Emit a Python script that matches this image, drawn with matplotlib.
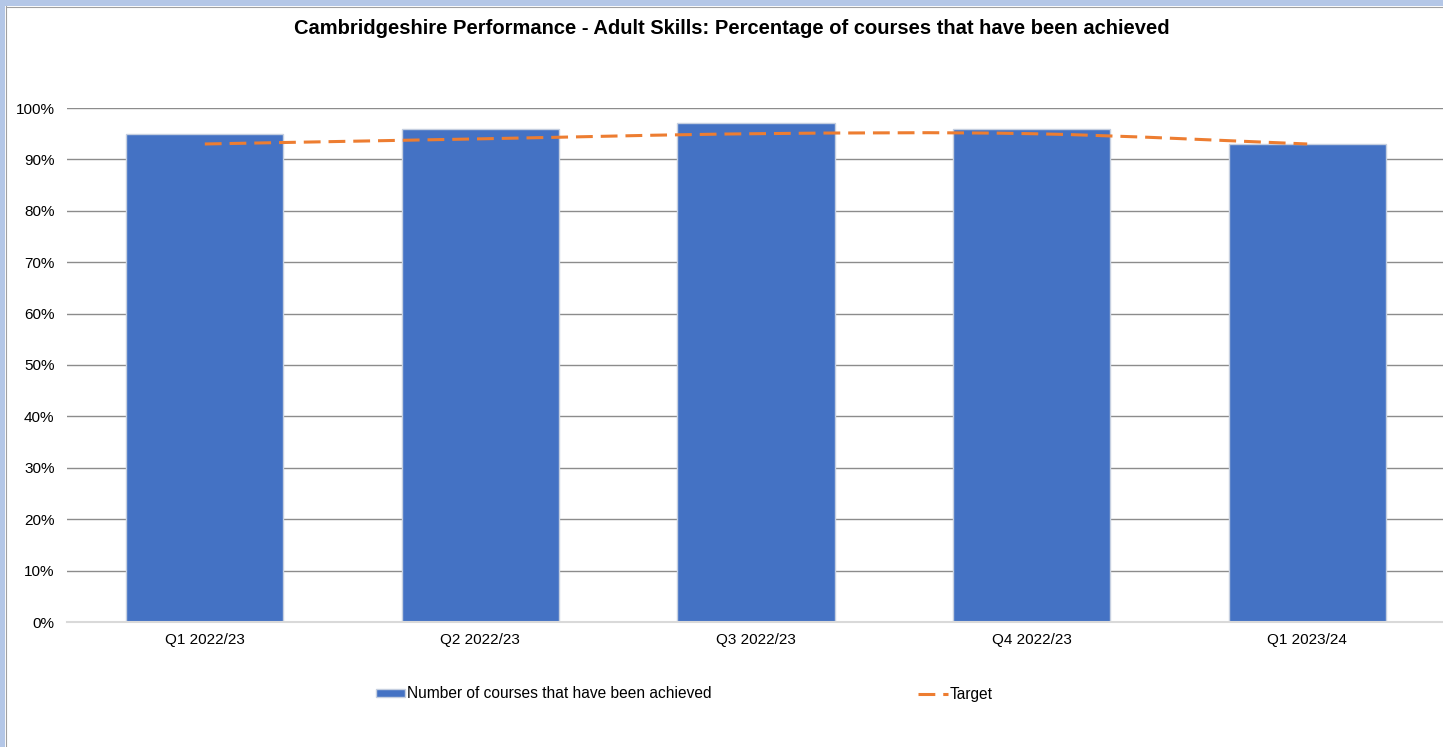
import matplotlib
matplotlib.use("Agg")
import matplotlib.pyplot as plt
from matplotlib.path import Path
from matplotlib.patches import PathPatch, Rectangle
from matplotlib.lines import Line2D
from matplotlib.ticker import PercentFormatter

plt.rcParams['font.family'] = ['Liberation Sans', 'DejaVu Sans']

quarters = ["Q1 2022/23", "Q2 2022/23", "Q3 2022/23", "Q4 2022/23", "Q1 2023/24"]
achieved = [0.95, 0.96, 0.97, 0.96, 0.93]
target = [0.93, 0.94, 0.95, 0.95, 0.93]

bar_color = "#4472C4"
line_color = "#ED7D31"
dash = (0, (5.5, 2.6))

fig = plt.figure(figsize=(14.43, 7.47), dpi=100)

# light blue window frame on the left and top
fig.patches.append(Rectangle((0, 0), 5 / 1443, 1, transform=fig.transFigure,
                             facecolor="#b4c7e7", edgecolor="none", zorder=0))
fig.patches.append(Rectangle((0, 1 - 6 / 747), 1, 6 / 747, transform=fig.transFigure,
                             facecolor="#b4c7e7", edgecolor="none", zorder=0))
fig.add_artist(Line2D([5.5 / 1443, 5.5 / 1443], [0, 1 - 6 / 747], transform=fig.transFigure,
                      color="#a0a0a0", lw=0.8))
fig.add_artist(Line2D([5.5 / 1443, 1], [1 - 6.5 / 747, 1 - 6.5 / 747], transform=fig.transFigure,
                      color="#a0a0a0", lw=0.8))

ax = fig.add_axes([67 / 1443, 1 - 622 / 747, 1378 / 1443, 514 / 747])
x = list(range(len(quarters)))

bars = ax.bar(x, achieved, width=0.57, color=bar_color, edgecolor="#c5cfe0",
              linewidth=1.0, zorder=3, label="Number of courses that have been achieved")

# smoothed target line (bezier through each point)
pts = list(zip(x, target))
verts = [pts[0]]
codes = [Path.MOVETO]
for i in range(len(pts) - 1):
    p0 = pts[i - 1] if i > 0 else pts[i]
    p1 = pts[i]
    p2 = pts[i + 1]
    p3 = pts[i + 2] if i + 2 < len(pts) else pts[i + 1]
    c1 = (p1[0] + (p2[0] - p0[0]) / 6, p1[1] + (p2[1] - p0[1]) / 6)
    c2 = (p2[0] - (p3[0] - p1[0]) / 6, p2[1] - (p3[1] - p1[1]) / 6)
    verts += [c1, c2, p2]
    codes += [Path.CURVE4] * 3
curve = PathPatch(Path(verts, codes), facecolor="none", edgecolor=line_color,
                  lw=2.2, linestyle=dash, zorder=4, capstyle="butt")
ax.add_patch(curve)
target_handle = Line2D([], [], color=line_color, lw=2.2, linestyle=dash)

ax.set_xlim(-0.5, 4.5)
ax.set_ylim(0, 1)
ax.set_yticks([i / 10 for i in range(11)])
ax.yaxis.set_major_formatter(PercentFormatter(1.0, decimals=0))
ax.set_xticks(x)
ax.set_xticklabels(quarters)
ax.tick_params(axis="both", length=0, labelsize=11, colors="black")
ax.tick_params(axis="y", pad=9)
ax.tick_params(axis="x", pad=8)
ax.grid(axis="y", color="#8c8c8c", linewidth=1.0, zorder=0)
ax.set_axisbelow(True)
for s in ["top", "right", "left"]:
    ax.spines[s].set_visible(False)
ax.spines["bottom"].set_color("#d9d9d9")
ax.spines["bottom"].set_linewidth(1.5)
ax.spines["bottom"].set_zorder(5)

fig.text(732 / 1443, 1 - 28 / 747,
         "Cambridgeshire Performance - Adult Skills: Percentage of courses that have been achieved",
         ha="center", va="center", fontsize=14.5, fontweight="bold")

fig.legend([bars, target_handle],
           ["Number of courses that have been achieved", "Target"],
           loc="center", bbox_to_anchor=(684 / 1443, 1 - 694 / 747), ncol=2,
           frameon=False, fontsize=11.2, handlelength=1.9, handleheight=0.5,
           handletextpad=0.1, columnspacing=13.3)

fig.savefig("out.png", dpi=100)
